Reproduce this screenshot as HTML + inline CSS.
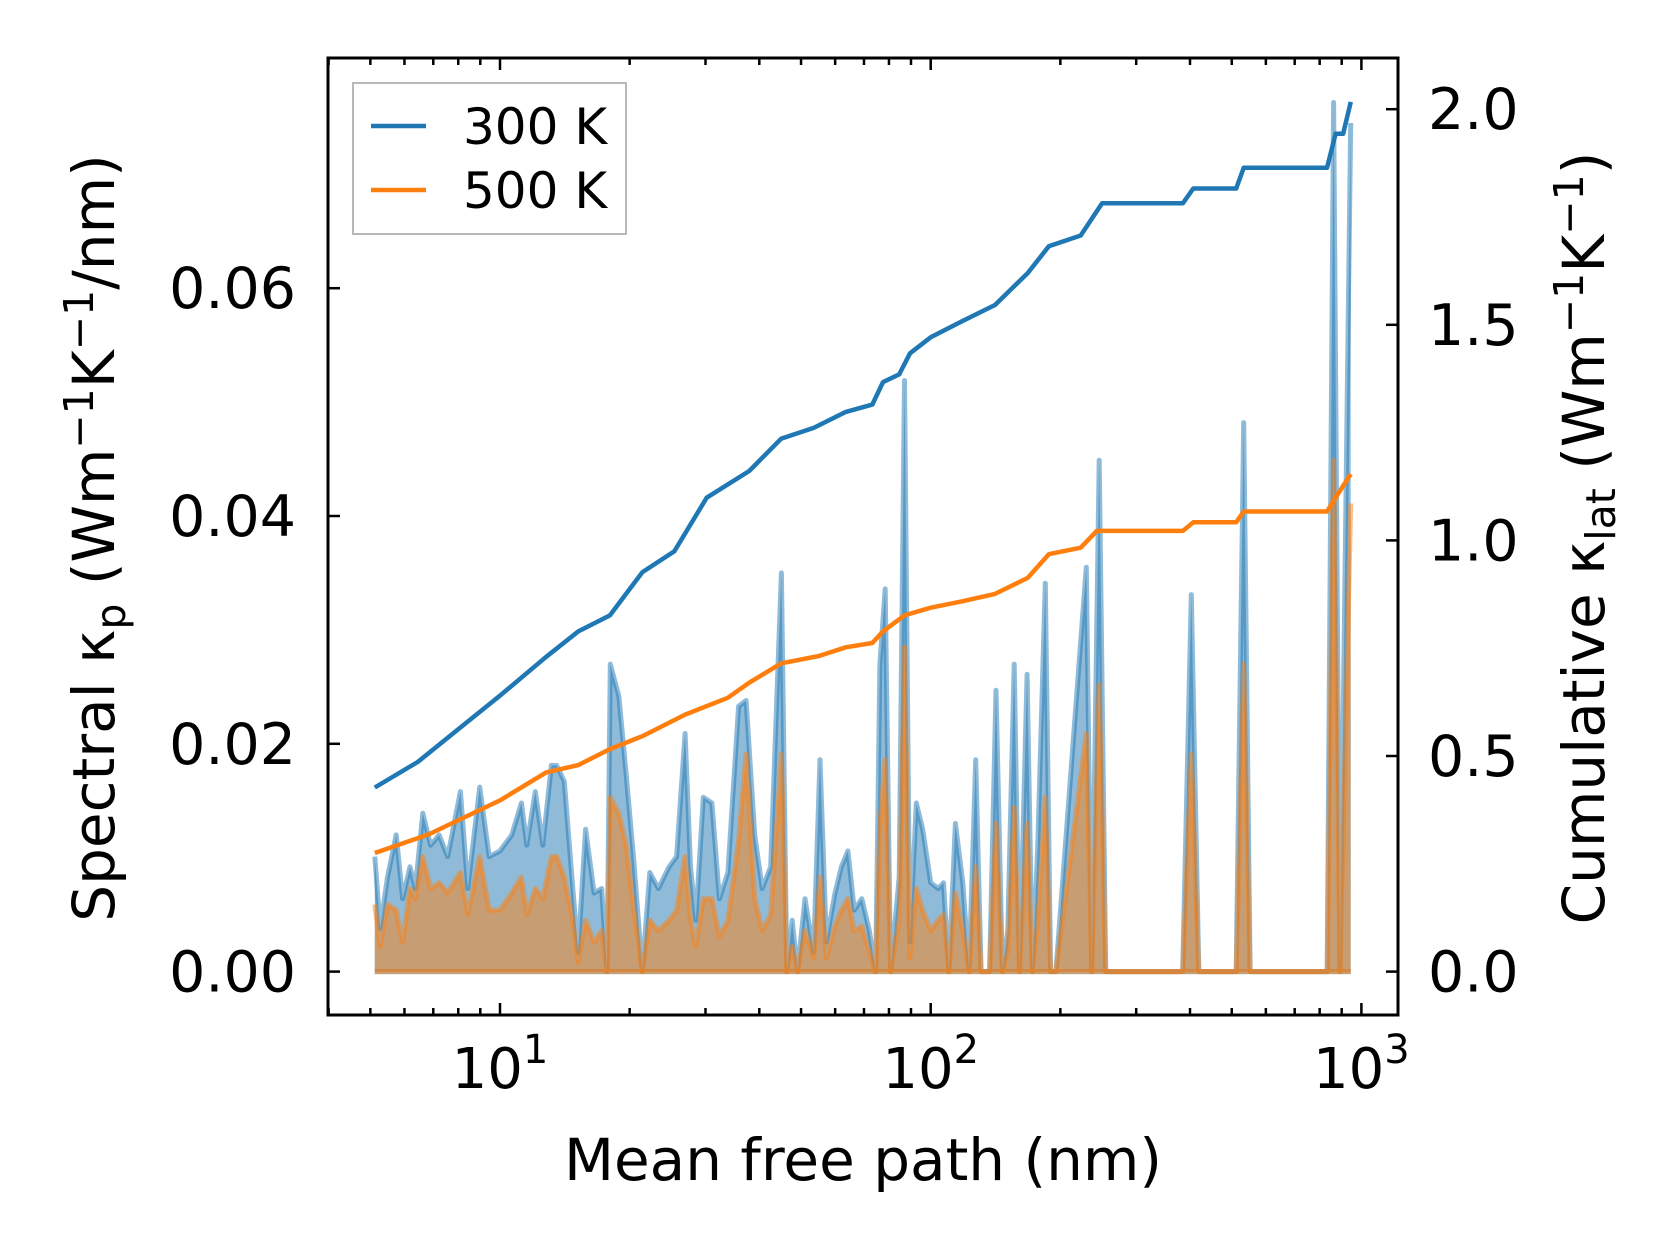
<!DOCTYPE html>
<html><head><meta charset="utf-8"><style>
html,body{margin:0;padding:0;background:#fff;}
svg{display:block;font-family:"DejaVu Sans","Liberation Sans",sans-serif;}
</style></head><body>
<svg id="chart" width="1679" height="1254" viewBox="0 0 1679 1254" xmlns="http://www.w3.org/2000/svg">
<rect width="1679" height="1254" fill="#fff"/>
<g id="marks"></g>
<g id="axes"></g>
<text x="863" y="1180" font-size="58" text-anchor="middle">Mean free path (nm)</text>
<text transform="translate(114,538) rotate(-90)" font-size="58" text-anchor="middle">Spectral κ<tspan font-size="41" dy="11">p</tspan><tspan dy="-11"> (Wm</tspan><tspan font-size="41" dy="-21">−1</tspan><tspan dy="21">K</tspan><tspan font-size="41" dy="-21">−1</tspan><tspan dy="21">/nm)</tspan></text>
<text transform="translate(1604,538) rotate(-90)" font-size="58" text-anchor="middle">Cumulative κ<tspan font-size="41" dy="11">lat</tspan><tspan dy="-11"> (Wm</tspan><tspan font-size="41" dy="-21">−1</tspan><tspan dy="21">K</tspan><tspan font-size="41" dy="-21">−1</tspan><tspan dy="21">)</tspan></text>
<g>
<rect x="353" y="83" width="273" height="151" fill="#fff" stroke="#b0b0b0" stroke-width="1.8"/>
<line x1="371" y1="126" x2="426" y2="126" stroke="#1f77b4" stroke-width="4.5"/>
<text x="463" y="144" font-size="50">300 K</text>
<line x1="371" y1="190" x2="426" y2="190" stroke="#ff7f0e" stroke-width="4.5"/>
<text x="463" y="208" font-size="50">500 K</text>
</g>
</svg>
<script>
const specX = [5.12,5.27,5.48,5.74,5.94,6.18,6.36,6.62,6.90,7.22,7.56,8.09,8.42,8.97,9.44,10,10.65,11.21,11.54,12.08,12.57,13.16,13.54,14.10,14.76,15.18,15.80,16.54,17.22,17.72,18.03,18.87,19.64,20.45,21.40,22.28,23.32,24.70,25.70,26.90,27.69,28.49,29.65,31.04,32.31,33.82,35.81,37.28,39.02,40.62,42.52,45.02,46.33,47.68,49.06,51.07,53.46,55.33,57.26,59.95,62.04,64.23,66.47,69.19,72.02,74.54,76.21,78.42,80.70,84.48,86.92,89.44,92.59,95.80,100,104.1,107.1,110.2,114.1,118.7,122.8,127.2,130.9,137.0,141.8,146.7,151.0,156.3,160.8,167.4,172.2,177.3,184.5,189.8,195.3,229.8,236.5,246.2,254.8,384.7,402.7,419.2,512.0,533.0,551.6,832.7,861.7,891.8,944.5];
const spec300Milli = [10.1,3.8,8.3,12.0,6.4,9.2,7.3,13.9,11.1,12.0,10.1,15.8,7.3,16.2,10.1,10.6,12.0,14.8,11.1,15.8,11.1,18.1,18.1,16.7,7.3,1.7,12.5,6.9,7.3,0,27.0,24.2,17.2,9.7,0,8.7,7.3,9.2,10.1,20.9,9.2,4.5,15.3,14.8,6.4,8.7,23.3,23.8,12.0,7.3,9.2,35.0,0,4.5,0,6.4,1.7,18.6,2.6,6.9,9.2,10.6,5.4,6.4,3.6,0,27.0,33.6,0,8.3,51.9,2.6,14.8,12.5,7.8,7.3,7.8,0,13.0,7.8,0,18.6,0,0,24.7,0,3.6,27.0,0,26.1,0,11.1,34.1,0,0,35.5,0,44.9,0,0,33.1,0,0,48.2,0,0,76.3,0,74.5];
const spec500Milli = [5.9,2.2,5.9,5.4,2.6,7.3,6.4,10.1,7.3,7.8,6.9,8.7,5.0,10.1,5.4,5.4,6.9,8.3,5.0,7.3,6.4,10.1,10.1,8.3,4.5,0.8,4.5,2.6,3.6,0,15.3,13.9,11.1,5.4,0,4.5,3.6,4.5,5.4,10.1,4.5,2.2,6.4,6.4,3.1,4.5,11.5,19.1,6.4,3.6,5.0,19.1,0,2.2,0,3.6,1.2,8.3,1.2,4.0,5.4,6.4,3.6,4.0,1.7,0,13.0,18.6,0,4.5,28.5,1.2,7.3,5.4,3.6,4.5,5.0,0,6.9,3.6,0,9.2,0,0,13.0,0,1.7,14.4,0,13.0,0,4.5,15.3,0,0,20.9,0,25.2,0,0,19.1,0,0,27.0,0,0,44.9,0,41.1];
const cum300X = [5.12,6.44,8.09,10,12.8,15.2,18.0,21.4,25.4,30.2,37.9,45.0,53.5,63.5,73.2,77.5,84.5,89.5,100,118.7,141,168,188,223,250,385,407,512,533,832,871,907,945];
const cum300Y = [0.427,0.486,0.566,0.640,0.730,0.789,0.826,0.926,0.975,1.099,1.161,1.236,1.261,1.298,1.315,1.367,1.385,1.434,1.471,1.509,1.546,1.620,1.682,1.707,1.782,1.782,1.816,1.816,1.864,1.864,1.943,1.943,2.017];
const cum500X = [5.12,6.82,10,12.8,15.2,18.0,21.4,26.9,33.8,37.9,45.0,55.0,63.5,73.2,77.5,86.9,100,118.7,141,168,188,223,243,385,407,512,533,832,881,945];
const cum500Y = [0.275,0.318,0.397,0.462,0.479,0.516,0.546,0.596,0.635,0.670,0.715,0.732,0.752,0.762,0.789,0.826,0.844,0.859,0.876,0.913,0.968,0.983,1.022,1.022,1.042,1.042,1.067,1.067,1.107,1.154];
const leftTicks = [0,0.02,0.04,0.06];
const leftTickLabels = ["0.00","0.02","0.04","0.06"];
const rightTicks = [0,0.5,1.0,1.5,2.0];
const rightTickLabels = ["0.0","0.5","1.0","1.5","2.0"];
const xMajor = [10,100,1000];
const xMajorExp = ["1","2","3"];

const PL=328, PR=1398, PT=58, PB=1015;
function xs(v){return 500 + (Math.log10(v)-1)*430.7;}
function ysL(v){return 971.6 - v/0.02*227.8;}
function ysR(v){return 971.6 - v/0.5*215.6;}
const NS="http://www.w3.org/2000/svg";
function mk(tag, attrs, parent){const e=document.createElementNS(NS,tag);for(const k in attrs)e.setAttribute(k,attrs[k]);parent.appendChild(e);return e;}
const marks=document.getElementById('marks');
const axes=document.getElementById('axes');

function specSeries(vals, color, name){
  let pts = specX.map((x,i)=>xs(x).toFixed(1)+','+ysL(vals[i]/1000).toFixed(1));
  const area = mk('polygon',{points: xs(specX[0]).toFixed(1)+','+ysL(0)+' '+pts.join(' ')+' '+xs(specX[specX.length-1]).toFixed(1)+','+ysL(0), fill:color,'fill-opacity':0.5,stroke:'none'},marks);
  
  
  const line = mk('polyline',{points:pts.join(' '),fill:'none',stroke:color,'stroke-opacity':0.5,'stroke-width':5,'stroke-linejoin':'round'},marks);
  
  
  const base = mk('line',{x1:xs(specX[0]),y1:ysL(0),x2:xs(specX[specX.length-1]),y2:ysL(0),stroke:color,'stroke-opacity':0.5,'stroke-width':5},marks);
  
  
}
specSeries(spec300Milli,'#1f77b4','spectral-300k');
specSeries(spec500Milli,'#ff7f0e','spectral-500k');

function cumSeries(X,Y,color,name){
  const pts = X.map((x,i)=>xs(x).toFixed(1)+','+ysR(Y[i]).toFixed(1)).join(' ');
  const l = mk('polyline',{points:pts,fill:'none',stroke:color,'stroke-width':4.5,'stroke-linejoin':'round'},marks);
  
  
}
cumSeries(cum300X,cum300Y,'#1f77b4','cumulative-300k');
cumSeries(cum500X,cum500Y,'#ff7f0e','cumulative-500k');

const frame = mk('rect',{x:PL,y:PT,width:PR-PL,height:PB-PT,fill:'none',stroke:'#000','stroke-width':3},axes);



for(let d=0; d<4; d++){
  for(let m=1;m<10;m++){
    const v = m*Math.pow(10,d);
    const x = xs(v);
    if(x<PL||x>PR) continue;
    const len = (m===1)?12:7;
    const t1 = mk('line',{x1:x,y1:PB,x2:x,y2:PB-len,stroke:'#000','stroke-width':2.5},axes);
    
    
    const t2 = mk('line',{x1:x,y1:PT,x2:x,y2:PT+len,stroke:'#000','stroke-width':2.5},axes);
    
    
  }
}
xMajor.forEach((v,i)=>{
  const t = mk('text',{x:xs(v),y:1088,'font-size':56,'text-anchor':'middle'},axes);
  
  
  t.textContent='10';
  const s = mk('tspan',{dy:-25,'font-size':40},t);
  s.textContent=xMajorExp[i];
});
leftTicks.forEach((v,i)=>{
  const y=ysL(v);
  const l = mk('line',{x1:PL,y1:y,x2:PL+12,y2:y,stroke:'#000','stroke-width':2.5},axes);
  
  
  const t = mk('text',{x:296,y:y+20,'font-size':57,'text-anchor':'end'},axes);
  
  
  t.textContent=leftTickLabels[i];
});
rightTicks.forEach((v,i)=>{
  const y=ysR(v);
  const l = mk('line',{x1:PR,y1:y,x2:PR-12,y2:y,stroke:'#000','stroke-width':2.5},axes);
  
  
  const t = mk('text',{x:1428,y:y+20,'font-size':57,'text-anchor':'start'},axes);
  
  
  t.textContent=rightTickLabels[i];
});
</script>
</body></html>
